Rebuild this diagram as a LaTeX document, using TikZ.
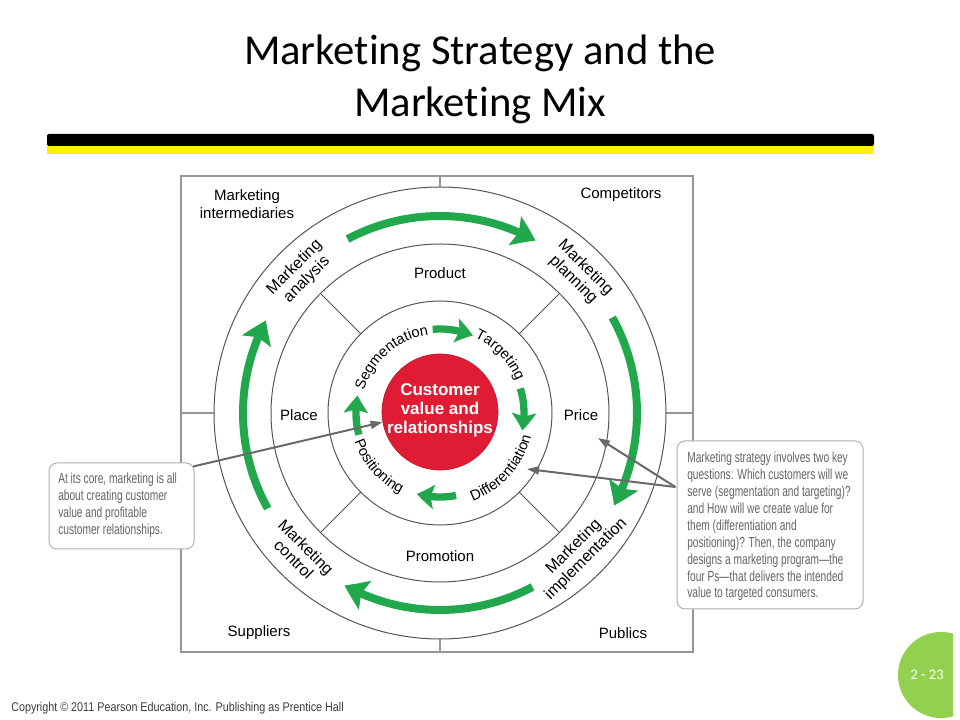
\documentclass[tikz,border=0pt]{standalone}
\usepackage{fontspec}
\setmainfont{Liberation Sans}
\newfontfamily\titlefont[Ligatures={NoCommon}]{Carlito}
\newfontfamily\narrowfont[FakeStretch=0.70]{Liberation Sans}
\newfontfamily\copyfont[FakeStretch=0.85]{Liberation Sans}
\usetikzlibrary{arrows.meta,bending,calc,decorations.text}
\definecolor{arrowgreen}{RGB}{34,168,76}
\definecolor{cvred}{RGB}{224,28,52}
\definecolor{framegray}{RGB}{150,150,150}
\definecolor{circgray}{RGB}{85,85,85}
\definecolor{calloutgray}{RGB}{175,175,175}
\definecolor{callouttext}{RGB}{100,100,100}
\definecolor{arrowgray}{RGB}{105,105,105}
\definecolor{pagegreen}{RGB}{146,208,80}
\definecolor{copygray}{RGB}{60,60,60}
\tikzset{
  outerarrow/.style={draw=arrowgreen, line width=6pt, -{Stealth[length=17pt,width=23pt,inset=3pt,bend]}},
  innerarrow/.style={draw=arrowgreen, line width=5.5pt, -{Stealth[length=13pt,width=18pt,inset=2.5pt,bend]}},
  ringline/.style={draw=circgray, line width=0.75pt},
  label/.style={font=\fontsize{11.25}{13}\selectfont, inner sep=0pt},
  ringtext/.style={font=\fontsize{12}{13}\selectfont, align=center, inner sep=0pt},
  callout/.style={draw=calloutgray, fill=white, rounded corners=6pt, line width=0.75pt, inner sep=0pt},
  callouttxt/.style={text=callouttext, align=left, inner sep=0pt, anchor=west},
  grayarrow/.style={draw=arrowgray, line width=1.5pt, -{Triangle[length=9pt,width=6pt]}},
  curvetext/.style={decorate, decoration={text along path, text align=center, text={|\fontsize{11}{12}\selectfont|#1}}}
}
\begin{document}
\begin{tikzpicture}[x=0.75pt,y=0.75pt]
\useasboundingbox (0,0) rectangle (960,720);
% title
\node[font=\titlefont\fontsize{32}{38}\selectfont, anchor=base, inner sep=0pt] (t1) at (480,655) {Marketing Strategy and the};
\node[font=\titlefont\fontsize{32}{38}\selectfont, anchor=base, inner sep=0pt] (t2) at (480,603) {Marketing Mix};
\fill[black, rounded corners=1.5pt] (47,574) rectangle (874,586);
\fill[yellow] (47,566) rectangle (874,574);
% frame
\coordinate (C) at (440,307);
\draw[framegray, line width=0.9pt] (181,68) rectangle (693,544);
\draw[framegray, line width=0.9pt] (440,544) -- (440,533);
\draw[framegray, line width=0.9pt] (440,81) -- (440,68);
\draw[framegray, line width=0.9pt] (181,307) -- (214,307);
\draw[framegray, line width=0.9pt] (666,307) -- (693,307);
% circles
\draw[ringline] (C) circle[radius=226];
\draw[ringline] (C) circle[radius=169];
\draw[ringline] (C) circle[radius=112];
\foreach \a in {45,135,225,315}
  \draw[ringline] ($(C)+(\a:112)$) -- ($(C)+(\a:169)$);
% outer green arrows
\draw[outerarrow] ($(C)+(118:197)$) arc[start angle=118, end angle=61, radius=197];
\draw[outerarrow] ($(C)+(29:197)$) arc[start angle=29, end angle=-28, radius=197];
\draw[outerarrow] ($(C)+(-62:197)$) arc[start angle=-62, end angle=-119, radius=197];
\draw[outerarrow] ($(C)+(209:197)$) arc[start angle=209, end angle=152, radius=197];
% inner green arrows
\draw[innerarrow] ($(C)+(95:84)$) arc[start angle=95, end angle=67, radius=84];
\draw[innerarrow] ($(C)+(17:84)$) arc[start angle=17, end angle=-12, radius=84];
\draw[innerarrow] ($(C)+(-79:84)$) arc[start angle=-79, end angle=-106, radius=84];
\draw[innerarrow] ($(C)+(195:84)$) arc[start angle=195, end angle=168, radius=84];
% corner labels
\node[label, align=center] (mi) at (247,516) {Marketing\\intermediaries};
\node[label] (comp) at (621,525) {Competitors};
\node[label] (supp) at (259,87) {Suppliers};
\node[label] (pub) at (623,87) {Publics};
% four Ps
\node[label] (prod) at (440,447) {Product};
\node[label] (place) at (299,305) {Place};
\node[label] (price) at (581,305) {Price};
\node[label] (promo) at (440,164) {Promotion};
% outer ring texts
\node[ringtext, rotate=45] (ma) at ($(C)+(135:197)$) {Marketing\\analysis};
\node[ringtext, rotate=-45] (mp) at ($(C)+(45:197)$) {Marketing\\planning};
\node[ringtext, rotate=45] (mim) at ($(C)+(-45:198)$) {Marketing\\implementation};
\node[ringtext, rotate=-45] (mc) at ($(C)+(-135:198)$) {Marketing\\control};
% inner curved texts
\path[curvetext=Segmentation] ($(C)+(178:79)$) arc[start angle=178, end angle=84, radius=79];
\path[curvetext=Targeting] ($(C)+(78:83)$) arc[start angle=78, end angle=10, radius=83];
\path[curvetext=Differentiation] ($(C)+(-88:94)$) arc[start angle=-88, end angle=4, radius=94];
\path[curvetext=Positioning] ($(C)+(186:90)$) arc[start angle=186, end angle=256, radius=90];
% center
\node[circle, fill=cvred, draw=cvred!85!black, line width=0.5pt, minimum size=87pt, inner sep=0pt] (cv) at (440,308) {};
\node[text=white, font=\bfseries\fontsize{12.75}{14.25}\selectfont, align=center, inner sep=0pt] (cvtext) at (440,310) {Customer\\value and\\relationships};
% callouts
\node[callout, minimum width=108.75pt, minimum height=64.5pt] (lbox) at (121.5,214) {};
\node[callouttxt, font=\narrowfont\fontsize{10.9}{12.75}\selectfont] (ltext) at (58,214.5)
  {At its core, marketing is all\\about creating customer\\value and profitable\\customer relationships.};
\node[callout, minimum width=139.5pt, minimum height=126pt] (rbox) at (770,195) {};
\node[callouttxt, font=\narrowfont\fontsize{10.9}{12.7}\selectfont] (rtext) at (687,193.5)
  {Marketing strategy involves two key\\questions: Which customers will we\\serve (segmentation and targeting)?\\and How will we create value for\\them (differentiation and\\positioning)? Then, the company\\designs a marketing program—the\\four Ps—that delivers the intended\\value to targeted consumers.};
% gray arrows
\coordinate (ra) at ([xshift=-0.8pt,yshift=28.5pt]rbox.west);
\coordinate (pricept) at (598,282);
\coordinate (diffpt) at (527,251);
\draw[grayarrow] ([xshift=-1pt,yshift=-3pt]lbox.north east) -- (cv.190);
\draw[grayarrow] (ra) -- (pricept);
\draw[grayarrow] (ra) -- (diffpt);
% page number
\begin{scope}
  \clip (880,0) rectangle (953,720);
  \fill[pagegreen] (941,45) circle[radius=43];
\end{scope}
\node[text=white, font=\titlefont\fontsize{11}{13}\selectfont, inner sep=0pt] (pn) at (927,45) {2 - 23};
% copyright
\node[anchor=base west, text=copygray, font=\copyfont\fontsize{9.5}{11}\selectfont, inner sep=0pt] (copy) at (11,8)
  {Copyright © 2011 Pearson Education, Inc. Publishing as Prentice Hall};
\end{tikzpicture}
\end{document}
